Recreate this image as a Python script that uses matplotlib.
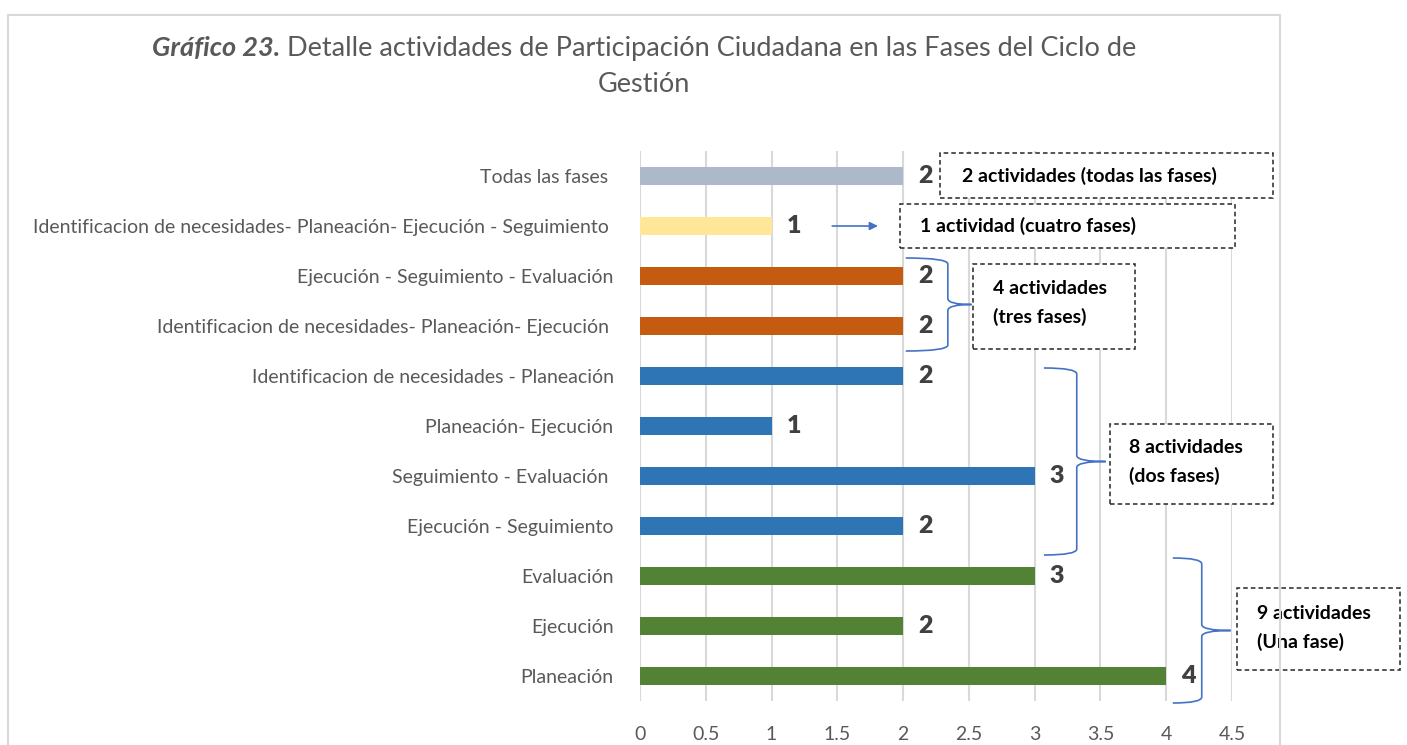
import numpy as np
import matplotlib
matplotlib.use('Agg')
from matplotlib import pyplot as plt
from matplotlib.patches import Rectangle, PathPatch
from matplotlib.path import Path

plt.rcParams['font.family'] = ['Lato', 'DejaVu Sans']

# datos (de abajo hacia arriba)
categorias = ['Planeación', 'Ejecución', 'Evaluación', 'Ejecución - Seguimiento',
              'Seguimiento - Evaluación ', 'Planeación- Ejecución',
              'Identificacion de necesidades - Planeación',
              'Identificacion de necesidades- Planeación- Ejecución ',
              'Ejecución - Seguimiento - Evaluación',
              'Identificacion de necesidades- Planeación- Ejecución - Seguimiento ',
              'Todas las fases ']
valores = [4, 2, 3, 2, 3, 1, 2, 2, 2, 1, 2]
colores = ['#548235'] * 3 + ['#2E75B6'] * 4 + ['#C55A11'] * 2 + ['#FFE699', '#ADB9CA']

notas = ['2 actividades (todas las fases)', '1 actividad (cuatro fases)',
         '4 actividades\n(tres fases)', '8 actividades\n(dos fases)',
         '9 actividades\n(Una fase)']

fig = plt.figure(figsize=(14.07, 7.45), dpi=100)
ax = fig.add_axes([640 / 1407, 44 / 745, 592 / 1407, 550 / 745])

# borde del gráfico
fig.patches.append(Rectangle((8 / 1407, -0.01), 1272 / 1407, 737 / 745, transform=fig.transFigure,
                             fill=False, edgecolor='#D9D9D9', linewidth=1.5))

y = np.arange(len(categorias))
ax.barh(y, valores, height=0.36, color=colores, zorder=3)
ax.set_xlim(0, 4.5)
ax.set_ylim(-0.5, 10.5)
ax.set_xticks(np.arange(0, 4.51, 0.5))
ax.set_xticklabels(['0', '0.5', '1', '1.5', '2', '2.5', '3', '3.5', '4', '4.5'])
ax.set_yticks(y)
ax.set_yticklabels(categorias)
ax.tick_params(axis='both', length=0, labelsize=14, colors='#595959')
ax.tick_params(axis='y', pad=19)
ax.tick_params(axis='x', pad=18)
ax.grid(axis='x', color='#D9D9D9', linewidth=1.5, zorder=0)
for s in ax.spines.values():
    s.set_visible(False)

# etiquetas de valores
for yi, v in zip(y, valores):
    ax.text(v + 0.17, yi, str(v), ha='center', va='center', fontsize=18,
            fontweight='heavy', color='#404040', zorder=4)

# cajas con texto
def caja(x0, x1, y0, y1):
    ax.add_patch(Rectangle((x0, y0), x1 - x0, y1 - y0, fill=True, facecolor='white',
                           edgecolor='#262626', linestyle=(0, (3, 2)), linewidth=1.1,
                           clip_on=False, zorder=5))

fs_nota = 14
caja(2.28, 4.81, 9.56, 10.46)
ax.text(3.42, 10, notas[0], ha='center', va='center', fontsize=fs_nota, fontweight='bold',
        color='black', zorder=6)
caja(1.98, 4.52, 8.56, 9.44)
ax.text(2.95, 9, notas[1], ha='center', va='center', fontsize=fs_nota, fontweight='bold',
        color='black', zorder=6)
caja(2.53, 3.76, 6.54, 8.24)
ax.text(2.68, 7.46, notas[2], ha='left', va='center', fontsize=fs_nota, fontweight='bold',
        color='black', linespacing=1.75, zorder=6)
caja(3.57, 4.81, 3.44, 5.04)
ax.text(3.72, 4.28, notas[3], ha='left', va='center', fontsize=fs_nota, fontweight='bold',
        color='black', linespacing=1.75, zorder=6, clip_on=False)
caja(4.54, 5.78, 0.12, 1.76)
ax.text(4.69, 0.96, notas[4], ha='left', va='center', fontsize=fs_nota, fontweight='bold',
        color='black', linespacing=1.75, zorder=6, clip_on=False)

# flecha
ax.annotate('', xy=(1.83, 9.0), xytext=(1.44, 9.0),
            arrowprops=dict(arrowstyle='-|>', color='#4472C4', lw=1.2, mutation_scale=12),
            zorder=6)

# llaves
def llave(x0, xb, xt, ytop, ybot):
    ym = (ytop + ybot) / 2
    d = 0.12
    verts = [(x0, ytop), (xb, ytop), (xb, ytop - d),
             (xb, ym + d),
             (xb, ym), (xt, ym),
             (xb, ym), (xb, ym - d),
             (xb, ybot + d),
             (xb, ybot), (x0, ybot)]
    codes = [Path.MOVETO, Path.CURVE3, Path.CURVE3,
             Path.LINETO,
             Path.CURVE3, Path.CURVE3,
             Path.CURVE3, Path.CURVE3,
             Path.LINETO,
             Path.CURVE3, Path.CURVE3]
    ax.add_patch(PathPatch(Path(verts, codes), fill=False, edgecolor='#4472C4',
                           linewidth=1.2, clip_on=False, zorder=6))

llave(2.02, 2.34, 2.52, 8.36, 6.5)
llave(3.07, 3.32, 3.54, 6.16, 2.42)
llave(4.05, 4.27, 4.49, 2.36, -0.54)

# título
r = fig.canvas.get_renderer()
t1 = fig.text(0, 0.935, 'Gráfico 23.', fontsize=19.5, fontweight='bold', fontstyle='italic',
              color='#595959', va='center')
t2 = fig.text(0, 0.935, ' Detalle actividades de Participación Ciudadana en las Fases del Ciclo de',
              fontsize=19.5, color='#595959', va='center')
w1 = t1.get_window_extent(r).width
w2 = t2.get_window_extent(r).width
x_ini = 644 - (w1 + w2) / 2
t1.set_x(x_ini / 1407)
t2.set_x((x_ini + w1) / 1407)
fig.text(644 / 1407, 0.887, 'Gestión', fontsize=19.5, color='#595959', ha='center', va='center')

fig.savefig('out.png', dpi=100)
